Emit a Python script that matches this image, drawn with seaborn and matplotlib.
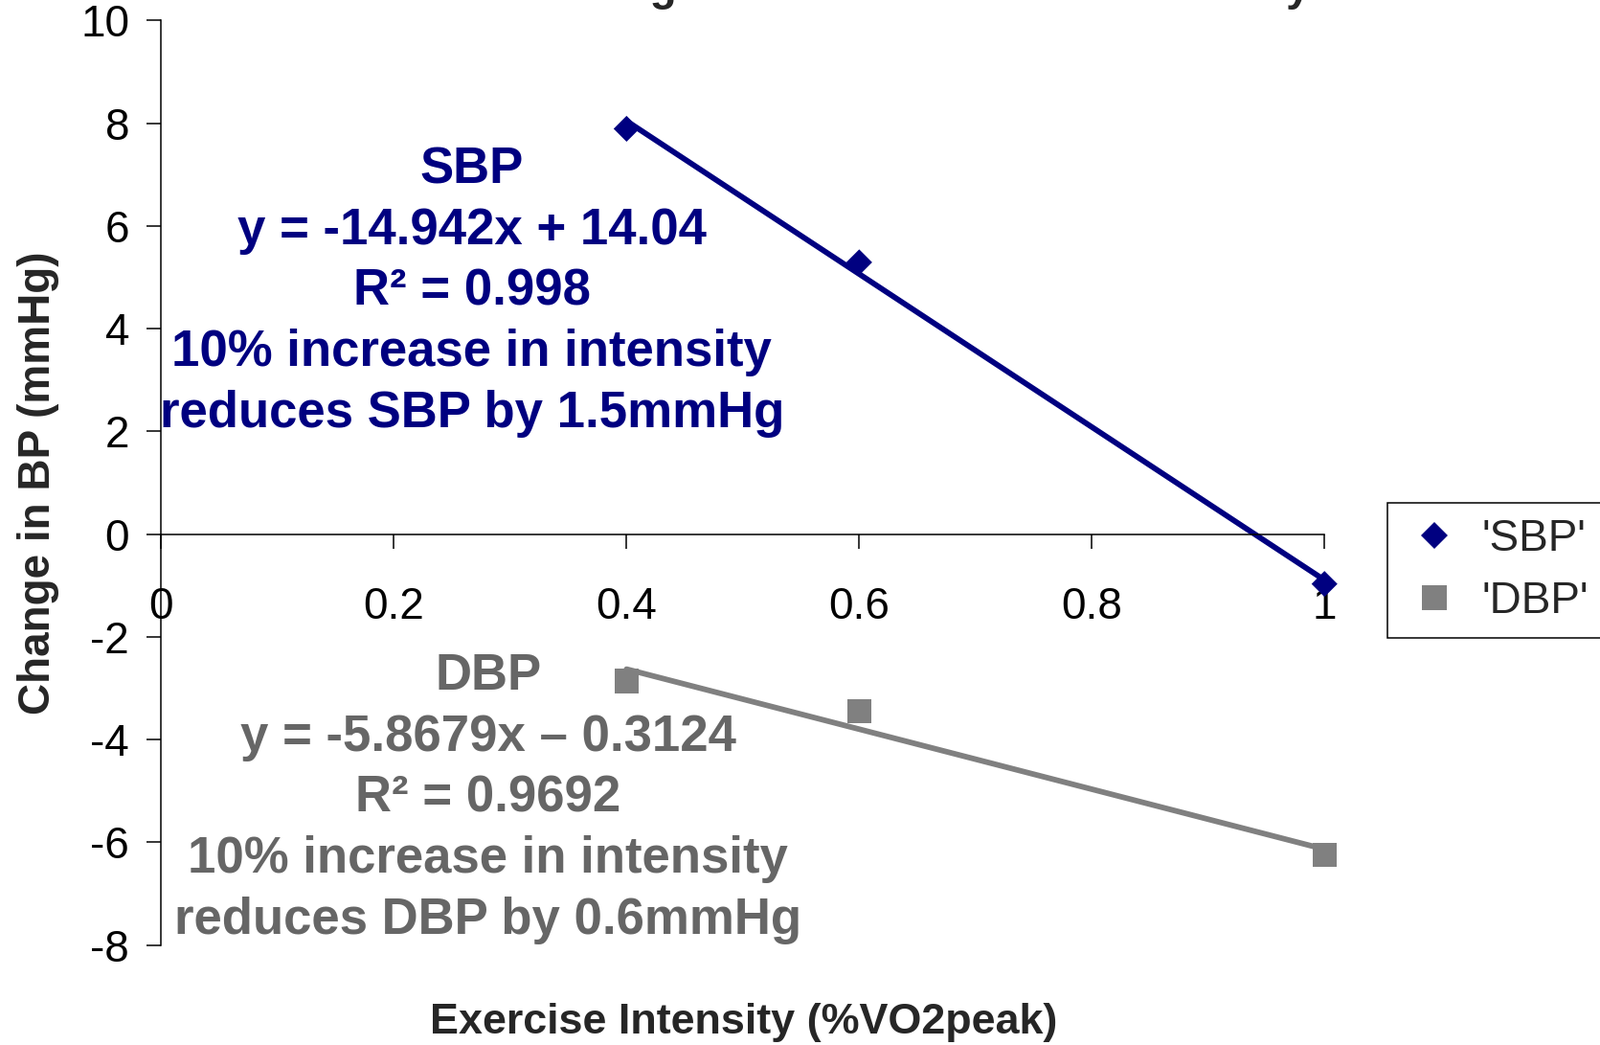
import matplotlib
matplotlib.use("Agg")
import matplotlib.pyplot as plt
import numpy as np
import pandas as pd
import seaborn as sns


# ======================================================
# data
# ======================================================

intensity = [0.4, 0.6, 1.0]
sbp_change = [7.89, 5.29, -0.97]
dbp_change = [-2.86, -3.45, -6.25]

series_names = ["'SBP'", "'DBP'"]
series_colors = {"'SBP'": "#000080", "'DBP'": "#808080"}
series_markers = {"'SBP'": "D", "'DBP'": "s"}
marker_area = {"'SBP'": 190, "'DBP'": 330}

x_ticks = [0, 0.2, 0.4, 0.6, 0.8, 1]
x_tick_labels = ["0", "0.2", "0.4", "0.6", "0.8", "1"]
y_ticks = [-8, -6, -4, -2, 0, 2, 4, 6, 8, 10]

sbp_note = ("SBP\ny = -14.942x + 14.04\nR\u00b2 = 0.998\n"
            "10% increase in intensity\nreduces SBP by 1.5mmHg")
dbp_note = ("DBP\ny = -5.8679x \u2013 0.3124\nR\u00b2 = 0.9692\n"
            "10% increase in intensity\nreduces DBP by 0.6mmHg")

title = "Change in BP with Exercise Intensity"

df = pd.DataFrame({
    "intensity": intensity * 2,
    "change": sbp_change + dbp_change,
    "measure": [series_names[0]] * 3 + [series_names[1]] * 3,
})

# ======================================================
# plot
# ======================================================

sns.set_style("white")
plt.rcParams["font.family"] = ["Liberation Sans", "DejaVu Sans"]
plt.rcParams["axes.unicode_minus"] = False

fig = plt.figure(figsize=(16.71, 10.91), dpi=100)
ax = fig.add_axes([0.1008, 0.0956, 0.7270, 0.8849])

# trend lines
for name, vals in zip(series_names, [sbp_change, dbp_change]):
    sns.regplot(x=intensity, y=vals, ax=ax, scatter=False, ci=None,
                truncate=True, color=series_colors[name],
                line_kws={"linewidth": 4.2, "zorder": 2})

sns.scatterplot(data=df, x="intensity", y="change", hue="measure",
                style="measure", size="measure",
                hue_order=series_names, style_order=series_names,
                size_order=series_names, sizes=marker_area,
                palette=series_colors, markers=series_markers,
                linewidth=0, ax=ax, zorder=3, clip_on=False)

ax.set_xlim(0, 1)
ax.set_ylim(-8, 10)
ax.set_xticks(x_ticks)
ax.set_xticklabels(x_tick_labels)
ax.set_yticks(y_ticks)

for side in ["top", "right"]:
    ax.spines[side].set_visible(False)
ax.spines["bottom"].set_position(("data", 0))
for side in ["left", "bottom"]:
    ax.spines[side].set_color("black")
    ax.spines[side].set_linewidth(1.1)

ax.tick_params(axis="x", direction="out", length=11, width=1.1,
               pad=28, labelsize=33, colors="black", bottom=True)
ax.tick_params(axis="y", direction="out", length=11, width=1.1,
               pad=13, labelsize=33, colors="black", left=True)

ax.set_xlabel("Exercise Intensity (%VO2peak)", fontsize=32.3, fontweight="bold")
ax.set_ylabel("Change in BP (mmHg)", fontsize=33, fontweight="bold")
ax.xaxis.set_label_coords(0.501, -0.062)
ax.yaxis.set_label_coords(-0.088, 0.5)

ax.text(0.267, 4.72, sbp_note, color="#000080", fontsize=38, fontweight="bold",
        ha="center", va="center", linespacing=1.35)
ax.text(0.281, -5.14, dbp_note, color="#666666", fontsize=38, fontweight="bold",
        ha="center", va="center", linespacing=1.35)

# title sits above the top edge, only its descenders show (as in the reference)
fig.text(0.578, 1.0, title, fontsize=33, fontweight="bold",
         ha="center", va="baseline")

sns.move_legend(ax, "upper left", bbox_to_anchor=(1.0541, 0.4783), title=None,
                frameon=True, fontsize=33, borderpad=0.35, handlelength=1.45,
                handletextpad=0.35, labelspacing=0.45, borderaxespad=0,
                fancybox=False, framealpha=1, edgecolor="black")
leg = ax.get_legend()
leg.get_frame().set_linewidth(1.1)
for h, name in zip(leg.legend_handles, series_names):
    h.set_markersize(np.sqrt(marker_area[name]))
    h.set_markeredgewidth(0)

fig.savefig("out.png", dpi=100)
plt.close(fig)
